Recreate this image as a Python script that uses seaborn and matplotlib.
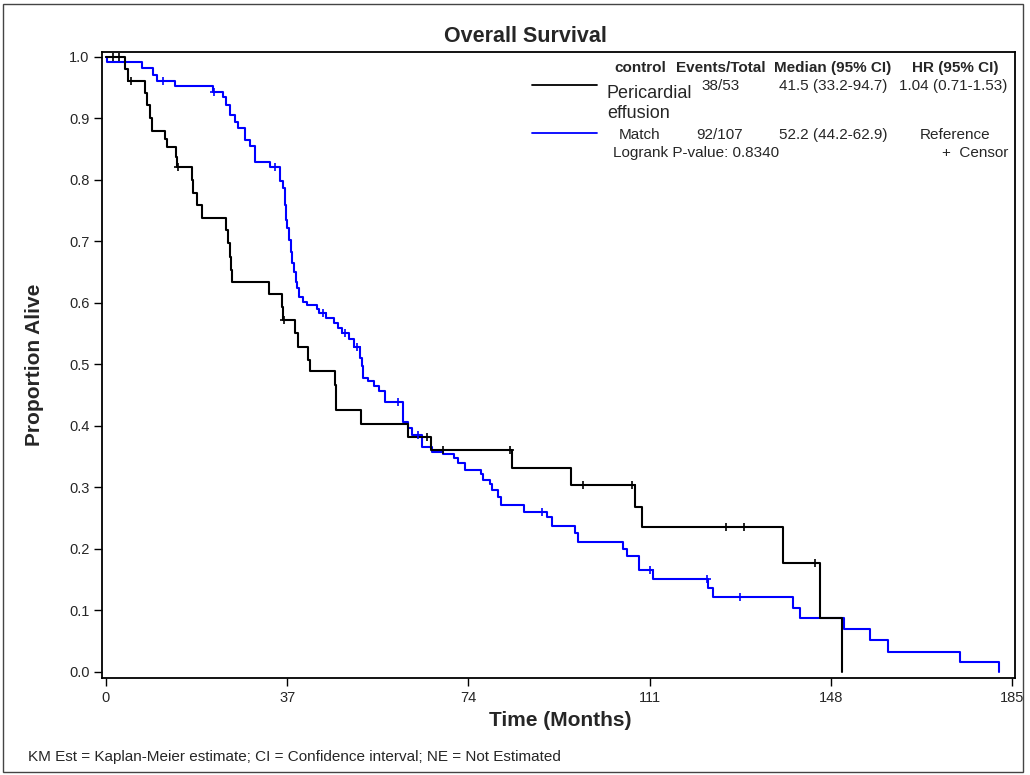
import numpy as np
import pandas as pd
import matplotlib
matplotlib.use("Agg")
import matplotlib.pyplot as plt
import seaborn as sns
from matplotlib.lines import Line2D
from matplotlib.patches import Rectangle

# ---------------- data ----------------
groups = ["Pericardial effusion", "Match"]

peri_time = [0, 3.9, 4.5, 8.0, 8.4, 9.0, 9.4, 12.0, 12.5, 14.3, 14.5, 17.6, 17.8, 18.6,
             19.6, 24.5, 24.9, 25.3, 25.5, 25.7, 33.3, 35.9, 36.1, 38.6, 39.2, 41.2, 41.7,
             46.8, 47.0, 52.1, 61.7, 66.4, 82.9, 95.0, 108.0, 109.5, 138.2, 145.8, 150.3]
peri_surv = [1.0, 0.980, 0.961, 0.941, 0.922, 0.901, 0.880, 0.867, 0.854, 0.837, 0.821,
             0.800, 0.779, 0.759, 0.738, 0.719, 0.698, 0.675, 0.654, 0.634, 0.615, 0.593,
             0.572, 0.551, 0.528, 0.507, 0.489, 0.467, 0.426, 0.403, 0.382, 0.361, 0.332,
             0.304, 0.268, 0.236, 0.177, 0.088, 0.0]
peri_censor = [1.4, 2.7, 5.1, 14.7, 36.3, 65.5, 68.8, 82.5, 97.4, 107.4, 126.6, 130.3, 144.8]

match_time = [0, 0.3, 7.35, 9.6, 10.4, 14.1, 21.85, 23.9, 24.5, 25.3, 26.3, 27.0, 28.4,
              29.4, 30.4, 33.5, 35.5, 36.1, 36.55, 36.75, 36.95, 37.4, 37.8, 38.0, 38.4,
              38.8, 39.0, 39.4, 40.2, 41.05, 43.1, 43.5, 44.9, 46.6, 47.4, 48.2, 49.6, 50.6,
              51.9, 52.3, 52.5, 53.5, 54.7, 55.75, 57.0, 60.65, 61.7, 62.5, 64.5, 66.6, 68.8,
              71.1, 71.9, 73.3, 76.6, 77.0, 78.4, 78.8, 80.05, 80.7, 85.4, 90.1, 91.1, 95.8,
              96.4, 105.6, 106.4, 108.8, 111.7, 122.9, 124.0, 140.3, 141.7, 150.7, 156.0,
              159.7, 174.4, 182.4]
match_surv = [1.0, 0.991, 0.982, 0.971, 0.961, 0.952, 0.943, 0.935, 0.922, 0.906, 0.894,
              0.885, 0.865, 0.855, 0.829, 0.821, 0.798, 0.787, 0.759, 0.735, 0.722, 0.702,
              0.683, 0.665, 0.650, 0.634, 0.624, 0.610, 0.602, 0.597, 0.590, 0.584, 0.576,
              0.567, 0.559, 0.551, 0.541, 0.528, 0.511, 0.498, 0.478, 0.473, 0.465, 0.457,
              0.439, 0.407, 0.397, 0.385, 0.366, 0.358, 0.354, 0.348, 0.340, 0.328, 0.322,
              0.312, 0.306, 0.296, 0.285, 0.272, 0.260, 0.252, 0.237, 0.226, 0.211, 0.200,
              0.189, 0.166, 0.151, 0.137, 0.122, 0.104, 0.088, 0.070, 0.052, 0.033, 0.016, 0.0]
match_censor = [11.6, 22.0, 34.5, 44.3, 48.8, 51.3, 59.6, 63.7, 89.0, 111.1, 122.7, 129.5]

x_ticks = [0, 37, 74, 111, 148, 185]
y_ticks = [0.0, 0.1, 0.2, 0.3, 0.4, 0.5, 0.6, 0.7, 0.8, 0.9, 1.0]

legend_header = ["control", "Events/Total", "Median (95% CI)", "HR (95% CI)"]
events_total = ["38/53", "92/107"]
medians = ["41.5 (33.2-94.7)", "52.2 (44.2-62.9)"]
hrs = ["1.04 (0.71-1.53)", "Reference"]
logrank_text = "Logrank P-value: 0.8340"

colors = {"Pericardial effusion": "#000000", "Match": "#0000FF"}

# ---------------- build tables ----------------
curve_df = pd.concat([
    pd.DataFrame({"time": peri_time, "surv": peri_surv, "group": groups[0]}),
    pd.DataFrame({"time": match_time, "surv": match_surv, "group": groups[1]}),
], ignore_index=True)


def step_value(times, survs, t):
    idx = np.searchsorted(np.asarray(times), t, side="right") - 1
    return np.asarray(survs)[idx]


cens_df = pd.concat([
    pd.DataFrame({"time": peri_censor,
                  "surv": step_value(peri_time, peri_surv, peri_censor),
                  "group": groups[0]}),
    pd.DataFrame({"time": match_censor,
                  "surv": step_value(match_time, match_surv, match_censor),
                  "group": groups[1]}),
], ignore_index=True)

# ---------------- figure ----------------
sns.set_theme(style="white")
plt.rcParams["font.family"] = ["Liberation Sans", "DejaVu Sans"]

W, H = 1030, 775
fig = plt.figure(figsize=(W / 100, H / 100), dpi=100)


def fx(x):
    return x / W


def fy(y):
    return 1 - y / H


ax = fig.add_axes([fx(102), fy(678), fx(1015) - fx(102), fy(52) - fy(678)])

# Blue first so black sits on top (as in reference)
for g in [groups[1], groups[0]]:
    sns.lineplot(data=curve_df[curve_df.group == g], x="time", y="surv",
                 color=colors[g], drawstyle="steps-post", estimator=None,
                 sort=False, lw=1.5, ax=ax, legend=False)
    sns.scatterplot(data=cens_df[cens_df.group == g], x="time", y="surv",
                    color=colors[g], marker="+", s=28, linewidth=1.2, ax=ax,
                    legend=False, zorder=5)

ax.set_xlim(-0.8, 185.6)
ax.set_ylim(-0.0098, 1.008)
ax.set_xticks(x_ticks)
ax.set_xticklabels([str(v) for v in x_ticks], fontsize=10.5)
ax.set_yticks(y_ticks)
ax.set_yticklabels([f"{v:.1f}" for v in y_ticks], fontsize=10.5)
ax.tick_params(axis="both", direction="out", length=6, width=1, color="black",
               bottom=True, left=True, pad=3)
for s in ax.spines.values():
    s.set_color("black")
    s.set_linewidth(1.3)
ax.set_xlabel("")
ax.set_ylabel("")

fig.text(fx(560), fy(721), "Time (Months)", ha="center", va="center",
         fontsize=15, fontweight="bold")
fig.text(fx(35), fy(365), "Proportion Alive", ha="center", va="center",
         rotation=90, fontsize=15, fontweight="bold")
fig.text(fx(525), fy(36), "Overall Survival", ha="center", va="center",
         fontsize=15.5, fontweight="bold")
fig.text(fx(28), fy(757), "KM Est = Kaplan-Meier estimate; CI = Confidence interval; NE = Not Estimated",
         ha="left", va="center", fontsize=11)

# ---------------- legend table ----------------
hdr_y = fy(68)
hfs = 11
fig.text(fx(640), hdr_y, legend_header[0], ha="center", va="center", fontsize=hfs, fontweight="bold")
fig.text(fx(721), hdr_y, legend_header[1], ha="center", va="center", fontsize=hfs, fontweight="bold")
fig.text(fx(833), hdr_y, legend_header[2], ha="center", va="center", fontsize=hfs, fontweight="bold")
fig.text(fx(955), hdr_y, legend_header[3], ha="center", va="center", fontsize=hfs, fontweight="bold")

fig.add_artist(Line2D([fx(532), fx(597)], [fy(85), fy(85)], color=colors[groups[0]], lw=1.3))
fig.add_artist(Line2D([fx(532), fx(597)], [fy(133), fy(133)], color=colors[groups[1]], lw=1.3))

dfs = 11
fig.text(fx(607), fy(93), "Pericardial", ha="left", va="center", fontsize=13)
fig.text(fx(607), fy(114), "effusion", ha="left", va="center", fontsize=13)
fig.text(fx(721), fy(86), events_total[0], ha="center", va="center", fontsize=dfs)
fig.text(fx(833), fy(86), medians[0], ha="center", va="center", fontsize=dfs)
fig.text(fx(953), fy(86), hrs[0], ha="center", va="center", fontsize=dfs)

fig.text(fx(640), fy(135), "Match", ha="center", va="center", fontsize=dfs)
fig.text(fx(720), fy(135), events_total[1], ha="center", va="center", fontsize=dfs)
fig.text(fx(833), fy(135), medians[1], ha="center", va="center", fontsize=dfs)
fig.text(fx(955), fy(135), hrs[1], ha="center", va="center", fontsize=dfs)

fig.text(fx(613), fy(153), logrank_text, ha="left", va="center", fontsize=dfs)
fig.text(fx(1008), fy(153), "+  Censor", ha="right", va="center", fontsize=dfs)

# outer frame of the picture
fig.add_artist(Rectangle((fx(3), fy(772)), fx(1023) - fx(3), fy(4) - fy(772),
                         fill=False, edgecolor="#444444", lw=1.0))

fig.savefig("out.png", dpi=100)
